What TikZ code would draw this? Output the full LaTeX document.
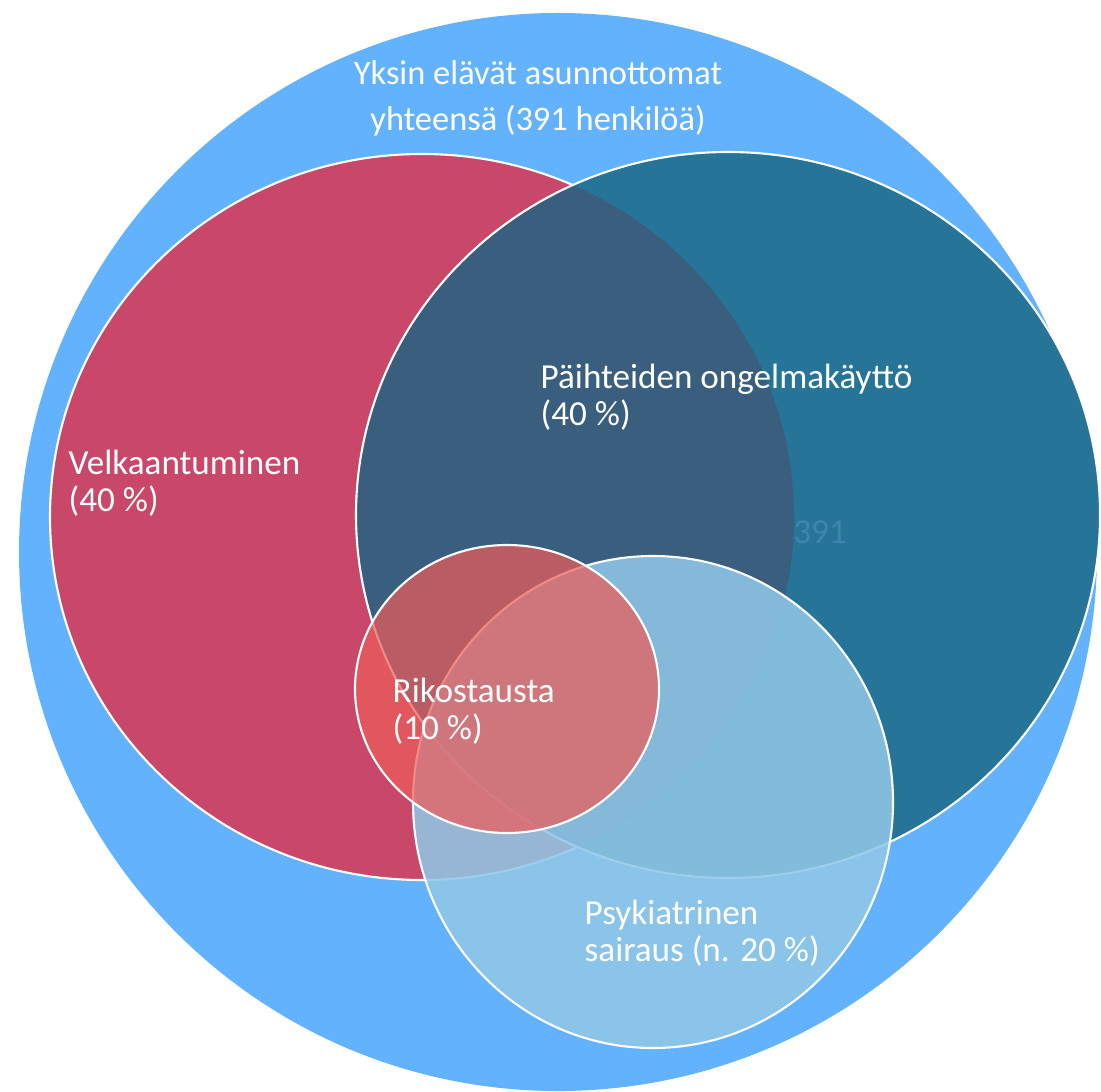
\documentclass[tikz,border=0pt]{standalone}
\usepackage{fontspec}
\setmainfont{Carlito}
\usepackage{tikz}
\definecolor{kaikki}{RGB}{98,178,253}
\definecolor{velkac}{RGB}{201,72,106}
\definecolor{paihdec}{RGB}{38,116,152}
\definecolor{yhteisc}{RGB}{58,94,126}
\definecolor{psykc}{RGB}{144,199,231}
\definecolor{rikosc}{RGB}{236,92,89}
\definecolor{lukuc}{RGB}{62,134,170}

\begin{document}
\begin{tikzpicture}[
		raja/.style={draw=white, line width=0.6pt},
		teksti/.style={text=white, align=left, inner sep=0pt, font=\fontsize{10}{10.6}\selectfont}]
			\useasboundingbox (0,0) rectangle (11.01,10.91);
			\coordinate (K) at (5.58,5.39);
			\coordinate (V) at (4.22,5.74);
			\coordinate (P) at (7.28,5.76);
			\coordinate (S) at (6.53,2.89);
			\coordinate (R) at (5.07,4.02);
			\fill[kaikki] (K) circle (5.39);
			\fill[velkac] (V) ellipse (3.72 and 3.63);
			\draw[raja] (V) ellipse (3.72 and 3.63);
			\fill[paihdec] (P) ellipse (3.72 and 3.63);
			\node[text=lukuc, font=\fontsize{10}{12}\selectfont] (luku) at (8.20,5.59) {391};
			\begin{scope}
				\clip (V) ellipse (3.72 and 3.63);
				\fill[yhteisc] (P) ellipse (3.72 and 3.63);
			\end{scope}
			\draw[raja] (P) ellipse (3.72 and 3.63);
			\filldraw[raja, fill=psykc, fill opacity=0.87] (S) ellipse (2.40 and 2.46);
			\filldraw[raja, fill=rikosc, fill opacity=0.72] (R) ellipse (1.52 and 1.44);
			\node[teksti, align=center, font=\fontsize{9.8}{13}\selectfont] (otsikko) at (5.38,9.93) {Yksin elävät asunnottomat\\yhteensä (391 henkilöä)};
			\node[teksti, anchor=west] (velka) at (0.68,6.08) {Velkaantuminen\\(40 \%)};
			\node[teksti, anchor=west] (paihde) at (5.40,6.94) {Päihteiden ongelmakäyttö\\(40 \%)};
			\node[teksti, anchor=west] (rikos) at (3.92,3.80) {Rikostausta\\(10 \%)};
			\node[teksti, anchor=west] (psyk) at (5.84,1.58) {Psykiatrinen\\sairaus (n. 20 \%)};
		\end{tikzpicture}
\end{document}
